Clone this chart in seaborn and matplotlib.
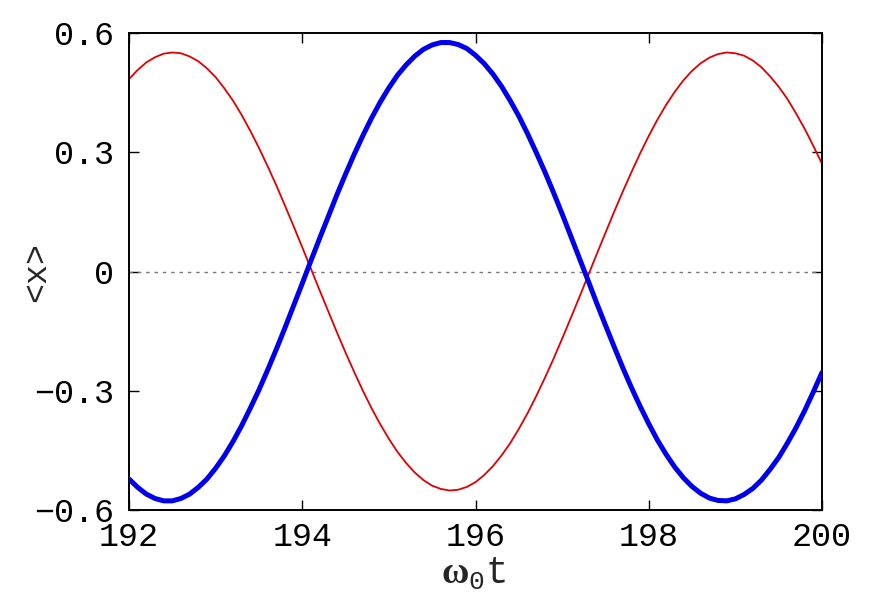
import numpy as np
import pandas as pd
import matplotlib
matplotlib.use("Agg")
import matplotlib.pyplot as plt
import seaborn as sns

# time axis (omega_0 t), sampled every 0.1
t_vals = [192.0, 192.1, 192.2, 192.3, 192.4, 192.5, 192.6, 192.7, 192.8, 192.9,
          193.0, 193.1, 193.2, 193.3, 193.4, 193.5, 193.6, 193.7, 193.8, 193.9,
          194.0, 194.1, 194.2, 194.3, 194.4, 194.5, 194.6, 194.7, 194.8, 194.9,
          195.0, 195.1, 195.2, 195.3, 195.4, 195.5, 195.6, 195.7, 195.8, 195.9,
          196.0, 196.1, 196.2, 196.3, 196.4, 196.5, 196.6, 196.7, 196.8, 196.9,
          197.0, 197.1, 197.2, 197.3, 197.4, 197.5, 197.6, 197.7, 197.8, 197.9,
          198.0, 198.1, 198.2, 198.3, 198.4, 198.5, 198.6, 198.7, 198.8, 198.9,
          199.0, 199.1, 199.2, 199.3, 199.4, 199.5, 199.6, 199.7, 199.8, 199.9,
          200.0]

# thin red curve
red_vals = [0.484, 0.507, 0.526, 0.539, 0.548, 0.551, 0.549, 0.541, 0.529, 0.511,
            0.489, 0.461, 0.430, 0.394, 0.354, 0.311, 0.265, 0.217, 0.166, 0.114,
            0.061, 0.007, -0.047, -0.100, -0.153, -0.204, -0.253, -0.300, -0.344, -0.384,
            -0.421, -0.454, -0.482, -0.506, -0.525, -0.539, -0.547, -0.551, -0.549, -0.542,
            -0.530, -0.512, -0.490, -0.463, -0.432, -0.396, -0.357, -0.314, -0.268, -0.220,
            -0.169, -0.117, -0.064, -0.010, 0.044, 0.097, 0.150, 0.201, 0.250, 0.297,
            0.341, 0.382, 0.419, 0.452, 0.481, 0.505, 0.524, 0.538, 0.547, 0.551,
            0.549, 0.543, 0.531, 0.514, 0.491, 0.465, 0.434, 0.398, 0.359, 0.316,
            0.271]

# thick blue curve
blue_vals = [-0.522, -0.543, -0.560, -0.571, -0.577, -0.577, -0.571, -0.560, -0.543, -0.522,
             -0.495, -0.464, -0.428, -0.388, -0.344, -0.298, -0.248, -0.196, -0.142, -0.086,
             -0.030, 0.027, 0.083, 0.138, 0.193, 0.245, 0.295, 0.342, 0.386, 0.426,
             0.462, 0.494, 0.520, 0.542, 0.559, 0.570, 0.576, 0.576, 0.571, 0.561,
             0.544, 0.523, 0.497, 0.466, 0.430, 0.391, 0.347, 0.300, 0.251, 0.199,
             0.145, 0.089, 0.033, -0.023, -0.080, -0.135, -0.189, -0.242, -0.292, -0.339,
             -0.383, -0.424, -0.460, -0.492, -0.519, -0.541, -0.558, -0.570, -0.576, -0.577,
             -0.572, -0.561, -0.546, -0.525, -0.498, -0.468, -0.432, -0.393, -0.350, -0.303,
             -0.254]

x_ticks = [192, 194, 196, 198, 200]
y_ticks = [-0.6, -0.3, 0.0, 0.3, 0.6]
y_tick_labels = ["\u22120.6", "\u22120.3", "0", "0.3", "0.6"]

sns.set_style("ticks")
plt.rcParams["font.family"] = ["Liberation Mono", "DejaVu Sans Mono"]
plt.rcParams["mathtext.fontset"] = "custom"
plt.rcParams["mathtext.tt"] = "Liberation Mono"
plt.rcParams["mathtext.rm"] = "Liberation Mono"
plt.rcParams["mathtext.bf"] = "Liberation Serif:bold"

df = pd.DataFrame({"t": t_vals, "red": red_vals, "blue": blue_vals})

fig = plt.figure(figsize=(8.79, 6.02), dpi=100)
ax = fig.add_axes([129/879, 1 - 510/602, (822-129)/879, (510-33)/602])

ax.axhline(0, color="#777777", lw=1.0, ls=(0, (2.5, 3.5)), zorder=1)
sns.lineplot(data=df, x="t", y="red", ax=ax, color="#e00000", lw=1.3, zorder=2)
sns.lineplot(data=df, x="t", y="blue", ax=ax, color="#0000ee", lw=3.6, zorder=3)

ax.set_xlim(192, 200)
ax.set_ylim(-0.6, 0.6)
ax.set_xticks(x_ticks)
ax.set_xticklabels([str(v) for v in x_ticks])
ax.set_yticks(y_ticks)
ax.set_yticklabels(y_tick_labels)

ax.tick_params(direction="in", length=7, width=1.0, top=True, right=True,
               labelsize=24, pad=11, colors="black")
ax.tick_params(axis="x", pad=9)
for s in ax.spines.values():
    s.set_linewidth(1.4)
    s.set_color("black")

ax.set_xlabel(r"$\mathbf{\omega}_{\mathtt{0}}\mathtt{t}$", fontsize=27)
ax.xaxis.set_label_coords((474 - 129) / 693, -(574 - 510) / 477)
ax.xaxis.label.set_va("center")
ax.set_ylabel("<x>", fontsize=24, va="center")
ax.yaxis.set_label_coords((37 - 129) / 693, 0.5)

fig.savefig("out.png", dpi=100)
